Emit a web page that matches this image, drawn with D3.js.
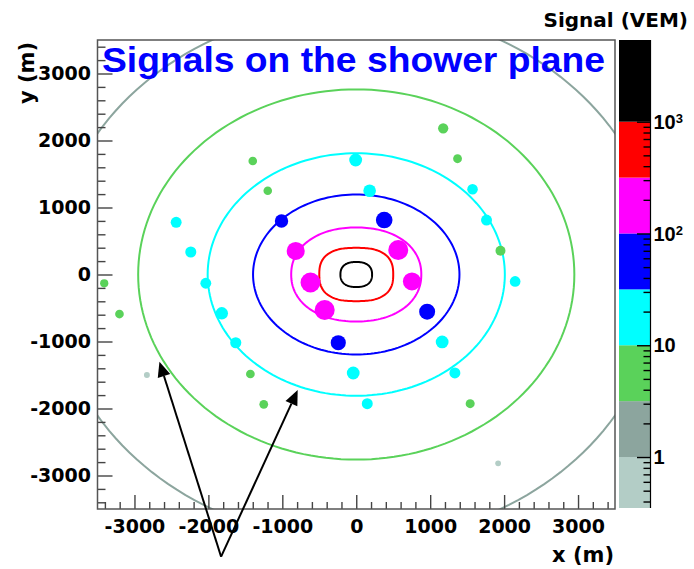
<!DOCTYPE html>
<html>
<head>
<meta charset="utf-8">
<script src="https://cdn.jsdelivr.net/npm/d3@7"></script>
<style>
  html, body { margin: 0; padding: 0; background: #fff; }
  svg { display: block; }
</style>
</head>
<body>
<svg id="chart" width="694" height="569"></svg>
<script>
// Detector stations projected on the shower plane (m) and their signals (VEM)
const stationX = [1176, -1400, 1370, -1197, 1951, -3409, -3203, -1432, -1251, 1541,
                  -2832, 1919,
                  -8, 181, 1573, 1762, 2149, -2436, -2238, -2035, -1819, -1630, 1162, -41, 1334, 149,
                  -1011, 378, 959, -243,
                  -819, 568, -619, 753, -427];
const stationY = [2182, 1694, 1728, 1251, 355, -131, -590, -1485, -1937, -1928,
                  -1500, -2818,
                  1709, 1251, 1272, 813, -104, 779, 336, -131, -579, -1018, -1007, -1470, -1470, -1928,
                  799, 813, -555, -1018,
                  351, 366, -119, -104, -530];
const stationSignal = [9.4, 4.2, 4.6, 4.0, 8.3, 3.3, 4.3, 4.4, 4.5, 5.1,
                       0.7, 0.6,
                       28, 25, 11, 13, 11.5, 13, 13.5, 12.5, 24, 14, 27, 27, 13, 13,
                       34, 95, 78, 60,
                       140, 226, 220, 140, 230];

// Iso-signal contours of the lateral distribution: level (VEM), semi-axes (m), squareness
const contourLevel = [1000, 316.2, 100, 31.62, 10, 3.162, 1];
const contourRx = [214, 500, 880, 1396, 2010, 2950, 4130];
const contourRy = [187, 398, 702, 1194, 1810, 2763, 3970];
const contourShape = [2.4, 2.6, 2.15, 2.0, 2.0, 2.0, 2.0];

// Colour palette: band edges (VEM) and band colours
const bandEdges = [0.35, 1, 3.162, 10, 31.62, 100, 316.2, 1000, 5380];
const bandColors = ["#b3cdc6", "#8ca59e", "#5ad25a", "#00ffff", "#0000ff", "#ff00ff", "#ff0000", "#000000"];

// Axis ticks
const xTicks = [-3000, -2000, -1000, 0, 1000, 2000, 3000];
const yTicks = [-3000, -2000, -1000, 0, 1000, 2000, 3000];
const zTicks = [1, 10, 100, 1000];

// Arrows pointing at two contours (shower-plane metres)
const arrowBase = [-1828, -4212];
const arrowTipX = [-2662, -792];
const arrowTipY = [-1301, -1724];

const svg = d3.select("#chart");
const plot = { left: 97.5, right: 615, top: 40, bottom: 509 };
const bar = { left: 619, right: 650, top: 40, bottom: 508 };

const x = d3.scaleLinear([-3500, 3500], [plot.left, plot.right]);
const y = d3.scaleLinear([-3500, 3500], [plot.bottom, plot.top]);
const z = d3.scaleLog([bandEdges[0], bandEdges[bandEdges.length - 1]], [bar.bottom, bar.top]);
const color = d3.scaleThreshold(bandEdges.slice(1, -1), bandColors);
const radius = d3.scalePow().exponent(0.21).domain([0, 1]).range([0, 3.2]);

svg.append("rect").attr("width", 694).attr("height", 569).attr("fill", "#fff");

svg.append("clipPath").attr("id", "plotClip")
  .append("rect")
  .attr("x", plot.left).attr("y", plot.top)
  .attr("width", plot.right - plot.left).attr("height", plot.bottom - plot.top);

// Contours
const angles = d3.range(0, 360, 2).map(d => d * Math.PI / 180);
function contourPoints(i) {
  const p = 2 / contourShape[i];
  return angles.map(t => {
    const c = Math.cos(t), s = Math.sin(t);
    return [Math.sign(c) * Math.pow(Math.abs(c), p) * contourRx[i],
            Math.sign(s) * Math.pow(Math.abs(s), p) * contourRy[i]];
  });
}
const contourLine = d3.line().x(d => x(d[0])).y(d => y(d[1])).curve(d3.curveLinearClosed);

const gPlot = svg.append("g").attr("clip-path", "url(#plotClip)");
gPlot.selectAll("path.contour")
  .data(contourLevel)
  .join("path")
  .attr("class", "contour")
  .attr("d", (d, i) => contourLine(contourPoints(i)))
  .attr("fill", "none")
  .attr("stroke", d => color(d))
  .attr("stroke-width", 2);

// Stations
gPlot.selectAll("circle.station")
  .data(stationSignal)
  .join("circle")
  .attr("class", "station")
  .attr("cx", (d, i) => x(stationX[i]))
  .attr("cy", (d, i) => y(stationY[i]))
  .attr("r", d => radius(d))
  .attr("fill", d => color(d));

// Axes
const tickColor = "#444";
function styleAxis(g) {
  g.select(".domain").remove();
  g.selectAll(".tick line").attr("stroke", tickColor).attr("stroke-width", 1.4);
  g.selectAll(".tick text")
    .attr("font-family", "DejaVu Sans")
    .attr("font-weight", "bold")
    .attr("font-size", 19)
    .attr("fill", "#000");
}
const minorX = d3.range(-3400, 3401, 200).filter(v => v % 1000 !== 0);
const minorY = d3.range(-3400, 3401, 200).filter(v => v % 1000 !== 0);

svg.append("g").attr("transform", `translate(0,${plot.bottom})`)
  .call(d3.axisBottom(x).tickValues(minorX).tickSizeInner(-7).tickSizeOuter(0).tickFormat(""))
  .call(styleAxis);
svg.append("g").attr("transform", `translate(0,${plot.bottom})`)
  .call(d3.axisBottom(x).tickValues(xTicks).tickSizeInner(-14).tickSizeOuter(0)
    .tickPadding(10.5).tickFormat(d => String(d)))
  .call(styleAxis);

svg.append("g").attr("transform", `translate(${plot.left},0)`)
  .call(d3.axisLeft(y).tickValues(minorY).tickSizeInner(-8).tickSizeOuter(0).tickFormat(""))
  .call(styleAxis);
svg.append("g").attr("transform", `translate(${plot.left},0)`)
  .call(d3.axisLeft(y).tickValues(yTicks).tickSizeInner(-15).tickSizeOuter(0)
    .tickPadding(6.5).tickFormat(d => String(d)))
  .call(styleAxis);

// Plot frame
svg.append("rect")
  .attr("x", plot.left).attr("y", plot.top)
  .attr("width", plot.right - plot.left).attr("height", plot.bottom - plot.top)
  .attr("fill", "none").attr("stroke", "#555").attr("stroke-width", 1.5);

// Axis titles
svg.append("text")
  .attr("x", 614).attr("y", 562)
  .attr("text-anchor", "end")
  .attr("font-family", "DejaVu Sans").attr("font-weight", "bold").attr("font-size", 21)
  .text("x (m)");
svg.append("text")
  .attr("transform", "translate(34,42) rotate(-90)")
  .attr("text-anchor", "end")
  .attr("font-family", "DejaVu Sans").attr("font-weight", "bold").attr("font-size", 21)
  .text("y (m)");

// Title
svg.append("text")
  .attr("x", 102).attr("y", 72)
  .attr("font-family", "Liberation Sans, Arial, sans-serif").attr("font-weight", "bold")
  .attr("font-size", 35)
  .attr("fill", "#0000ff")
  .attr("textLength", 503).attr("lengthAdjust", "spacingAndGlyphs")
  .text("Signals on the shower plane");

// Colour bar
const bands = d3.range(bandColors.length);
svg.selectAll("rect.band")
  .data(bands)
  .join("rect")
  .attr("class", "band")
  .attr("x", bar.left)
  .attr("width", bar.right - bar.left)
  .attr("y", i => z(bandEdges[i + 1]))
  .attr("height", i => z(bandEdges[i]) - z(bandEdges[i + 1]))
  .attr("fill", i => bandColors[i]);

const minorZ = [];
[0.1, 1, 10, 100, 1000].forEach(dec => {
  for (let k = 2; k <= 9; k++) {
    const v = k * dec;
    if (v > bandEdges[0] && v < bandEdges[bandEdges.length - 1]) minorZ.push(v);
  }
});
function styleBarAxis(g) {
  g.select(".domain").remove();
  g.selectAll(".tick line").attr("stroke", "#000").attr("stroke-width", 1.4);
}
svg.append("g").attr("transform", `translate(${bar.right},0)`)
  .call(d3.axisRight(z).tickValues(minorZ).tickSizeInner(-6.5).tickSizeOuter(0).tickFormat(""))
  .call(styleBarAxis);
svg.append("g").attr("transform", `translate(${bar.right},0)`)
  .call(d3.axisRight(z).tickValues(zTicks).tickSizeInner(-13).tickSizeOuter(0).tickFormat(""))
  .call(styleBarAxis);
svg.append("line")
  .attr("x1", bar.right + 0.5).attr("x2", bar.right + 0.5)
  .attr("y1", bar.top).attr("y2", bar.bottom)
  .attr("stroke", "#000").attr("stroke-width", 1.2);

const zLabels = svg.selectAll("text.zlabel")
  .data(zTicks)
  .join("text")
  .attr("class", "zlabel")
  .attr("x", bar.right + 3.5)
  .attr("y", d => z(d))
  .attr("dy", "0.36em")
  .attr("font-family", "Liberation Sans, Arial, sans-serif")
  .attr("font-weight", "bold")
  .attr("font-size", 20);
zLabels.each(function(d) {
  const e = Math.round(Math.log10(d));
  const t = d3.select(this);
  if (e <= 1) {
    t.text(String(d));
  } else {
    t.append("tspan").text("10");
    t.append("tspan").attr("dy", "-0.45em").attr("font-size", 13).text(String(e));
  }
});

svg.append("text")
  .attr("x", 688).attr("y", 27)
  .attr("text-anchor", "end")
  .attr("font-family", "DejaVu Sans").attr("font-weight", "bold").attr("font-size", 20)
  .text("Signal (VEM)");

// Arrows
const gArrows = svg.append("g");
arrowTipX.forEach((tx, i) => {
  const x0 = x(arrowBase[0]), y0 = y(arrowBase[1]);
  const x1 = x(tx), y1 = y(arrowTipY[i]);
  const dx = x1 - x0, dy = y1 - y0, L = Math.hypot(dx, dy);
  const ux = dx / L, uy = dy / L;
  const hl = 15, hw = 6.5;
  const bx = x1 - ux * hl, by = y1 - uy * hl;
  gArrows.append("line")
    .attr("x1", x0).attr("y1", y0).attr("x2", bx).attr("y2", by)
    .attr("stroke", "#000").attr("stroke-width", 2);
  gArrows.append("path")
    .attr("d", `M${x1},${y1}L${bx - uy * hw},${by + ux * hw}L${bx + uy * hw},${by - ux * hw}Z`)
    .attr("fill", "#000");
});
</script>
</body>
</html>
